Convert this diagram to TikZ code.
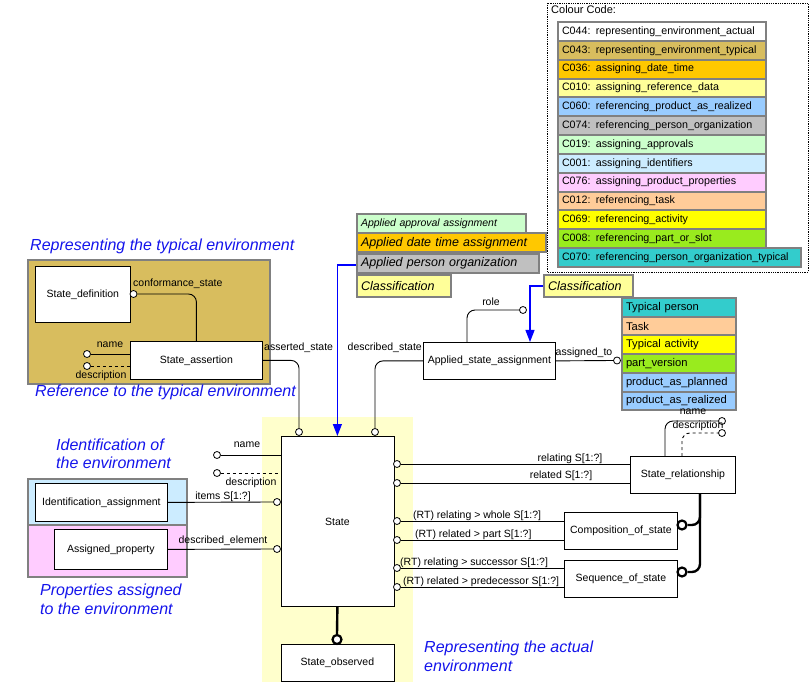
\documentclass[tikz,border=0pt]{standalone}
\usepackage{fontspec}
\setmainfont{Liberation Sans}
\usetikzlibrary{arrows.meta}
\definecolor{cWhite}{RGB}{255,255,255}
\definecolor{cTan}{RGB}{216,189,94}
\definecolor{cOrange}{RGB}{255,200,0}
\definecolor{cLYellow}{RGB}{255,255,153}
\definecolor{cBlue}{RGB}{153,204,255}
\definecolor{cGray}{RGB}{192,192,192}
\definecolor{cGreen}{RGB}{204,255,204}
\definecolor{cLBlue}{RGB}{204,236,255}
\definecolor{cPink}{RGB}{255,204,255}
\definecolor{cPeach}{RGB}{255,204,153}
\definecolor{cYellow}{RGB}{255,255,0}
\definecolor{cLime}{RGB}{153,235,30}
\definecolor{cTeal}{RGB}{51,204,204}
\definecolor{cPale}{RGB}{255,255,204}
\definecolor{frameGray}{RGB}{128,128,128}
\definecolor{titleBlue}{RGB}{20,20,235}
\begin{document}
\begin{tikzpicture}[x=1pt,y=-1pt,
  lbl/.style={font=\fontsize{10.5}{12}\selectfont, inner sep=0},
  ebox/.style={draw=black, line width=0.8pt, fill=white, inner sep=2pt, anchor=north west, font=\fontsize{10.5}{12}\selectfont},
  cbox/.style={draw=frameGray, line width=2pt, anchor=north west, inner xsep=4pt, inner ysep=0pt, align=left, font=\fontsize{10.7}{12}\selectfont},
  tbox/.style={draw=frameGray, line width=2pt, anchor=north west, inner xsep=4pt, inner ysep=0pt, align=left, font=\fontsize{11.2}{13}\selectfont},
  abox/.style={draw=frameGray, line width=2pt, anchor=north west, inner xsep=4pt, inner ysep=0pt, align=left, font=\fontsize{12.5}{14}\selectfont\itshape},
  bgbox/.style={draw=frameGray, line width=2pt},
  port/.style={circle, draw=black, fill=white, inner sep=0pt, minimum size=7pt, line width=0.8pt},
  tport/.style={circle, draw=black, fill=white, inner sep=0pt, minimum size=9pt, line width=2.2pt},
  conn/.style={line width=0.9pt, rounded corners=8pt},
  dconn/.style={conn, dashed},
  tconn/.style={line width=2.4pt, rounded corners=8pt},
  barrow/.style={draw=blue, line width=1.2pt, -{Triangle[width=9pt,length=12pt]}},
  ttl/.style={font=\fontsize{16}{18.5}\selectfont\itshape, text=titleBlue, inner sep=0pt, align=left, anchor=west}
]
\useasboundingbox (0,0) rectangle (811,684);

% ---------- Colour code legend ----------
\draw[densely dotted, line width=0.8pt] (547,3) rectangle (808,272);
\node[lbl, anchor=west, font=\fontsize{11}{12}\selectfont] (cctitle) at (551,10) {Colour Code:};
\foreach \i/\col/\txt in {0/cWhite/{C044: representing\_environment\_actual},
  1/cTan/{C043: representing\_environment\_typical},
  2/cOrange/{C036: assigning\_date\_time},
  3/cLYellow/{C010: assigning\_reference\_data},
  4/cBlue/{C060: referencing\_product\_as\_realized},
  5/cGray/{C074: referencing\_person\_organization},
  6/cGreen/{C019: assigning\_approvals},
  7/cLBlue/{C001: assigning\_identifiers},
  8/cPink/{C076: assigning\_product\_properties},
  9/cPeach/{C012: referencing\_task},
  10/cYellow/{C069: referencing\_activity},
  11/cLime/{C008: referencing\_part\_or\_slot}}{
  \node[cbox, fill=\col, minimum width=208pt, minimum height=18.85pt, text width=200pt] (cc\i) at (557,{21+18.85*\i}) {\txt};
}
\node[cbox, fill=cTeal, minimum width=243pt, minimum height=18.85pt, text width=235pt] (cc12) at (557,247.5) {C070: referencing\_person\_organization\_typical};

% ---------- Background areas ----------
\node[bgbox, fill=cTan, anchor=north west, minimum width=242pt, minimum height=124pt, inner sep=0pt] (typenv) at (27,259) {};
\fill[cPale] (262,417) rectangle (413,682);
\node[bgbox, fill=cLBlue, anchor=north west, minimum width=159pt, minimum height=46pt, inner sep=0pt] (idenv) at (27,478) {};
\node[bgbox, fill=cPink, anchor=north west, minimum width=159pt, minimum height=52pt, inner sep=0pt] (propenv) at (27,524) {};

% ---------- Titles ----------
\node[ttl] (t1) at (30,246) {Representing the typical environment};
\node[ttl] (t2) at (35,392) {Reference to the typical environment};
\node[ttl] (t3) at (56,454) {Identification of\\the environment};
\node[ttl] (t4) at (40,599.5) {Properties assigned\\to the environment};
\node[ttl] (t5) at (424,656.5) {Representing the actual\\environment};

% ---------- Applied stack (left) ----------
\node[abox, fill=cGreen, minimum width=169pt, text width=161pt, minimum height=19pt, font=\fontsize{10.5}{12}\selectfont\itshape] (appapproval) at (356,213) {Applied approval assignment};
\node[abox, fill=cOrange, minimum width=189pt, text width=181pt, minimum height=19pt] (appdate) at (356,232.5) {Applied date time assignment};
\node[abox, fill=cGray, minimum width=182pt, text width=174pt, minimum height=19pt] (appperson) at (356,253) {Applied person organization};
\node[abox, fill=cLYellow, minimum width=94pt, text width=86pt, minimum height=22pt] (clsL) at (356,274) {Classification};
\node[abox, fill=cLYellow, minimum width=89pt, text width=81pt, minimum height=22pt] (clsR) at (543,274) {Classification};

% ---------- Type stack (right) ----------
\foreach \i/\col/\txt in {0/cTeal/{Typical person},1/cPeach/{Task},2/cYellow/{Typical activity},3/cLime/{part\_version},4/cBlue/{product\_as\_planned},5/cBlue/{product\_as\_realized}}{
  \node[tbox, fill=\col, minimum width=114pt, minimum height=18.7pt, text width=106pt] (tp\i) at (621,{297+18.7*\i}) {\txt};
}

% ---------- Entity boxes ----------
\node[ebox, minimum width=95pt, minimum height=56pt] (sdef) at (35,266) {State\_definition};
\node[ebox, minimum width=132pt, minimum height=38pt] (sassert) at (130,341) {State\_assertion};
\node[ebox, minimum width=132pt, minimum height=37pt] (asa) at (423,342) {Applied\_state\_assignment};
\node[ebox, minimum width=113pt, minimum height=170pt] (state) at (280.5,436) {State};
\node[ebox, minimum width=113pt, minimum height=37pt] (sobs) at (280.5,644) {State\_observed};
\node[ebox, minimum width=132pt, minimum height=38pt] (idass) at (35,483) {Identification\_assignment};
\node[ebox, minimum width=113pt, minimum height=40pt] (aprop) at (54,529) {Assigned\_property};
\node[ebox, minimum width=105pt, minimum height=37pt] (srel) at (630,456) {State\_relationship};
\node[ebox, minimum width=113pt, minimum height=37pt] (comp) at (564,512) {Composition\_of\_state};
\node[ebox, minimum width=113pt, minimum height=37pt] (seq) at (564,560) {Sequence\_of\_state};

% ---------- Ports ----------
\node[port] (pconf) at (133.5,294) {};
\node[port] (pSAname) at (87,354) {};
\node[port] (pSAdesc) at (87,366) {};
\node[port] (pAsserted) at (299,432) {};
\node[port] (pDescribed) at (375,432) {};
\node[port] (pRole) at (523,310) {};
\node[port] (pAssigned) at (617,360.5) {};
\node[port] (pSname) at (217,455) {};
\node[port] (pSdesc) at (217,473) {};
\node[port] (pItems) at (277,502) {};
\node[port] (pDescEl) at (277,549) {};
\node[port] (pRelating) at (397,464) {};
\node[port] (pRelated) at (397,483) {};
\node[port] (pWhole) at (397,521) {};
\node[port] (pPart) at (397,540) {};
\node[port] (pSucc) at (397,568) {};
\node[port] (pPred) at (397,587) {};
\node[port] (pRname) at (722,421) {};
\node[port] (pRdesc) at (722,433) {};
\node[tport] (pComp) at (682,525) {};
\node[tport] (pSeq) at (682,572) {};
\node[tport] (pObs) at (337,639.5) {};

\coordinate (asaRole) at (467,342);
\coordinate (asaCls) at (530,342);
\coordinate (appEdge) at (356,265);
\coordinate (srelName) at (665,456);
\coordinate (srelDesc) at (682,456);
\coordinate (srelSub) at (700,493);

% ---------- Connectors ----------
\draw[conn] (pconf.east) -| (sassert.north);
\draw[conn] (pSAname.east) -- (pSAname.east -| sassert.west);
\draw[dconn] (pSAdesc.east) -- (pSAdesc.east -| sassert.west);
\draw[conn] (sassert.east) -| (pAsserted.north);
\draw[conn] (asa.west) -| (pDescribed.north);
\draw[conn] (asaRole) |- (pRole.west);
\draw[conn] (asa.east) -- (pAssigned.west);
\draw[barrow, rounded corners=0pt] (clsR.west) -| (asaCls);
\draw[barrow, rounded corners=0pt] (appEdge) -| (state.north);
\draw[conn] (pSname.east) -- (pSname.east -| state.west);
\draw[dconn] (pSdesc.east) -- (pSdesc.east -| state.west);
\draw[conn] (idass.east) -- (pItems.west);
\draw[conn] (aprop.east) -- (pDescEl.west);
\draw[conn] (pRelating.east) -- (pRelating.east -| srel.west);
\draw[conn] (pRelated.east) -- (pRelated.east -| srel.west);
\draw[conn] (pWhole.east) -- (pWhole.east -| comp.west);
\draw[conn] (pPart.east) -- (pPart.east -| comp.west);
\draw[conn] (pSucc.east) -- (pSucc.east -| seq.west);
\draw[conn] (pPred.east) -- (pPred.east -| seq.west);
\draw[conn] (srelName) |- (pRname.west);
\draw[dconn] (srelDesc) |- (pRdesc.west);
\draw[tconn] (srelSub) |- (pComp.east);
\draw[tconn] (srelSub) |- (pSeq.east);
\draw[tconn] (state.south) -- (pObs.north);

% ---------- Labels ----------
\node[lbl, anchor=west] (lconf) at (133,284) {conformance\_state};
\node[lbl] (lSAname) at (110,345) {name};
\node[lbl] (lSAdesc) at (101,375.5) {description};
\node[lbl, anchor=west] (lAsserted) at (264,348) {asserted\_state};
\node[lbl, anchor=east] (lDescribed) at (422,348) {described\_state};
\node[lbl] (lRole) at (491,302) {role};
\node[lbl] (lAssigned) at (584,353) {assigned\_to};
\node[lbl] (lSname) at (247,445) {name};
\node[lbl] (lSdesc) at (251,483) {description};
\node[lbl] (lItems) at (223,497) {items S[1:?]};
\node[lbl] (lDescEl) at (223,541) {described\_element};
\node[lbl] (lRelating) at (570,459) {relating S[1:?]};
\node[lbl] (lRelated) at (561,476) {related S[1:?]};
\node[lbl, anchor=west] (lWhole) at (413,516) {(RT) relating > whole S[1:?]};
\node[lbl, anchor=west] (lPart) at (415,535) {(RT) related > part S[1:?]};
\node[lbl, anchor=west] (lSucc) at (400,563) {(RT) relating > successor S[1:?]};
\node[lbl, anchor=west] (lPred) at (403,582) {(RT) related > predecessor S[1:?]};
\node[lbl] (lRname) at (693,412) {name};
\node[lbl] (lRdesc) at (698,426) {description};
\end{tikzpicture}
\end{document}
